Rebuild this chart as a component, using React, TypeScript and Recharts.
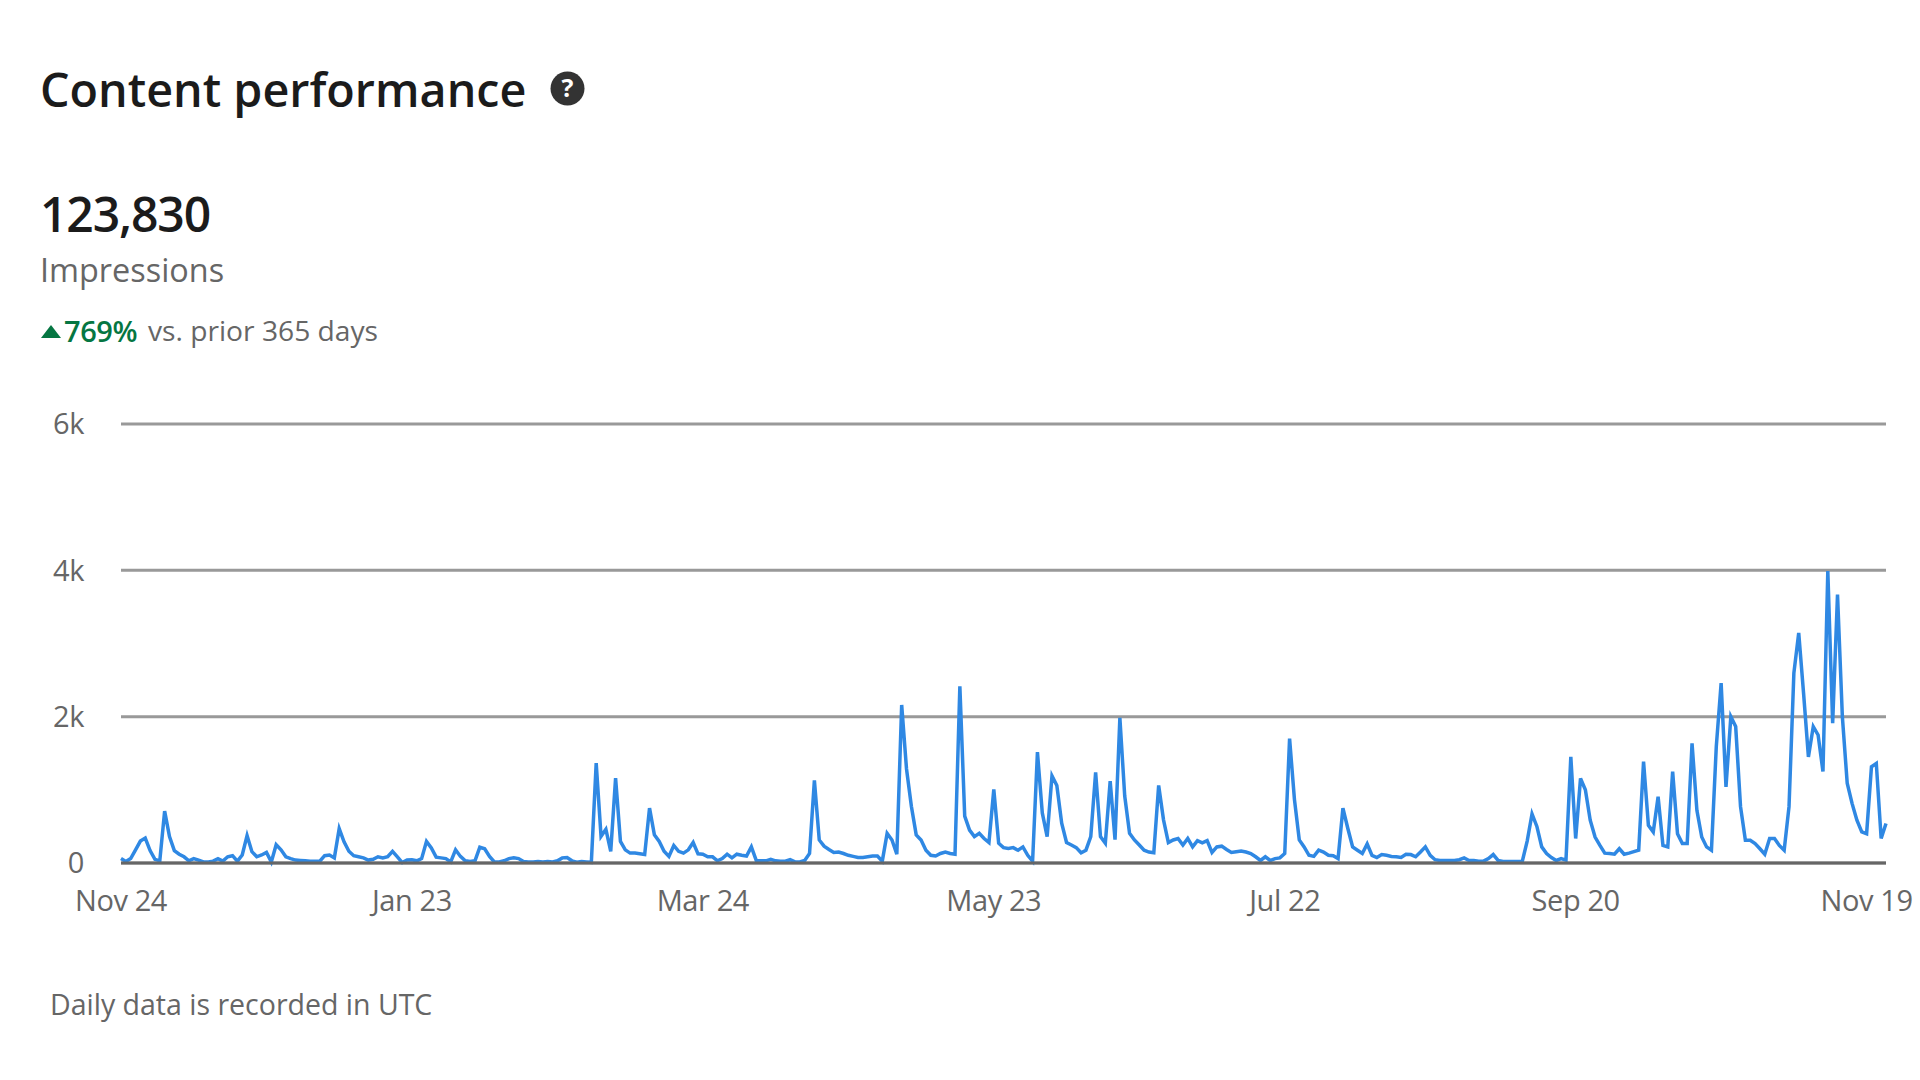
import { CartesianGrid, Line, LineChart, XAxis, YAxis } from "recharts"

// daily impressions, one list per 60 days between the x axis labels
const novToJan = [
  60, 20, 60, 180, 300, 340, 170, 50, 30, 710,
  360, 170, 120, 85, 30, 60, 40, 15, 15, 25,
  60, 25, 85, 100, 25, 110, 375, 155, 85, 110,
  145, 15, 250, 180, 85, 60, 40, 35, 30, 25,
  25, 25, 100, 110, 70, 470, 290, 160, 100, 85,
  70, 40, 50, 85, 70, 85, 160, 85, 5, 40,
]
const janToMar = [
  45, 30, 60, 295, 205, 80, 70, 60, 15, 180,
  90, 30, 20, 30, 215, 195, 90, 15, 15, 30,
  60, 70, 60, 20, 15, 15, 20, 15, 20, 15,
  30, 70, 75, 30, 10, 20, 15, 10, 1365, 365,
  460, 160, 1160, 295, 180, 135, 135, 125, 115, 750,
  385, 295, 160, 90, 240, 160, 135, 180, 280, 125,
]
const marToMay = [
  120, 85, 85, 30, 60, 120, 70, 120, 105, 95,
  220, 35, 30, 30, 50, 30, 25, 25, 45, 15,
  15, 35, 130, 1130, 315, 230, 185, 145, 150, 130,
  105, 90, 75, 75, 85, 95, 95, 25, 405, 315,
  120, 2160, 1285, 775, 385, 315, 175, 105, 95, 130,
  150, 130, 120, 2415, 640, 450, 360, 405, 335, 280,
]
const mayToJul = [
  1005, 270, 210, 200, 210, 175, 220, 105, 25, 1515,
  685, 360, 1190, 1060, 545, 280, 245, 210, 140, 175,
  360, 1240, 360, 270, 1120, 320, 1985, 915, 405, 315,
  245, 175, 150, 140, 1060, 590, 280, 315, 335, 245,
  335, 220, 305, 275, 305, 145, 220, 230, 185, 145,
  155, 165, 150, 130, 85, 35, 85, 35, 60, 70,
]
const julToSep = [
  130, 1700, 870, 315, 220, 105, 90, 175, 150, 105,
  100, 60, 750, 475, 220, 175, 130, 260, 105, 75,
  115, 105, 90, 85, 75, 120, 115, 85, 150, 220,
  105, 45, 35, 35, 35, 35, 45, 70, 35, 35,
  25, 25, 60, 115, 35, 20, 20, 20, 20, 25,
  300, 670, 500, 220, 130, 75, 35, 60, 40, 1450,
]
const sepToNov = [
  335, 1155, 1000, 585, 355, 240, 135, 130, 120, 195,
  120, 135, 155, 175, 1385, 515, 425, 905, 240, 220,
  1250, 400, 265, 265, 1635, 720, 355, 220, 175, 1590,
  2460, 1040, 2000, 1865, 770, 310, 310, 265, 195, 120,
  335, 335, 240, 175, 770, 2595, 3145, 2320, 1450, 1865,
  1750, 1250, 3990, 1910, 3670, 2000, 1090, 815, 585, 425,
]
const lastDays = [400, 1315, 1360, 335, 540]

const impressions = [...novToJan, ...janToMar, ...marToMay, ...mayToJul, ...julToSep, ...sepToNov, ...lastDays]

const dateTicks = ["Nov 24", "Jan 23", "Mar 24", "May 23", "Jul 22", "Sep 20", "Nov 19"]
const valueTicks = [0, 2000, 4000, 6000]

const fmt = new Intl.DateTimeFormat("en-US", { month: "short", day: "numeric", timeZone: "UTC" })
const data = impressions.map((value, i) => ({
  day: fmt.format(new Date(Date.UTC(2022, 10, 24 + i))),
  value,
}))

const FONT = '"Open Sans", sans-serif'
const MUTED = "#666666"

function Label({ top, left, size, color, weight, spacing, children }: any) {
  return (
    <div
      style={{
        position: "absolute",
        top,
        left,
        fontSize: size,
        color,
        fontWeight: weight ?? 400,
        letterSpacing: spacing ?? 0,
        lineHeight: 1,
        whiteSpace: "nowrap",
      }}
    >
      {children}
    </div>
  )
}

export default function App() {
  return (
    <div style={{ position: "absolute", top: 0, left: 0, width: 1920, height: 1080, background: "#fff", fontFamily: FONT, overflow: "hidden" }}>
      <Label top={66} left={40} size={46.7} color="#1b1b1b" weight={600}>Content performance</Label>
      <svg style={{ position: "absolute", left: 550, top: 71 }} width={35} height={35}>
        <circle cx={17.5} cy={17.5} r={17} fill="#333333" />
        <text x={17.5} y={26} textAnchor="middle" fontSize={25} fontWeight={700} fill="#fff" fontFamily={FONT}>?</text>
      </svg>
      <Label top={190} left={40} size={48} color="#1b1b1b" weight={600} spacing={-1.1}>123,830</Label>
      <Label top={253} left={40} size={32.4} color={MUTED}>Impressions</Label>
      <svg style={{ position: "absolute", left: 41, top: 325 }} width={20} height={13}>
        <polygon points="0,13 10,0 20,13" fill="#057642" />
      </svg>
      <Label top={316} left={64} size={29} color="#057642" weight={600} spacing={-0.4}>769%</Label>
      <Label top={316} left={148} size={28.2} color={MUTED}>vs. prior 365 days</Label>
      <Label top={990} left={50} size={28.5} color={MUTED}>Daily data is recorded in UTC</Label>

      <div style={{ position: "absolute", top: 380, left: 0 }}>
        <LineChart width={1920} height={560} data={data} margin={{ top: 44, right: 34, bottom: 47, left: 0 }}>
          <CartesianGrid vertical={false} stroke="#999999" strokeWidth={3} />
          <XAxis
            dataKey="day"
            ticks={dateTicks}
            interval={0}
            axisLine={{ stroke: "#666666", strokeWidth: 3 }}
            tickLine={false}
            tickSize={0}
            tickMargin={27}
            tick={{ fontSize: 29, fill: MUTED, letterSpacing: -0.4 }}
          />
          <YAxis
            width={121}
            domain={[0, 6000]}
            ticks={valueTicks}
            axisLine={false}
            tickLine={false}
            tickSize={0}
            tickMargin={37}
            tickFormatter={(v: number) => (v === 0 ? "0" : `${v / 1000}k`)}
            tick={{ fontSize: 29, fill: MUTED, letterSpacing: -0.4 }}
          />
          <Line type="linear" dataKey="value" stroke="#2f88e3" strokeWidth={3.5} dot={false} isAnimationActive={false} />
        </LineChart>
      </div>
    </div>
  )
}
